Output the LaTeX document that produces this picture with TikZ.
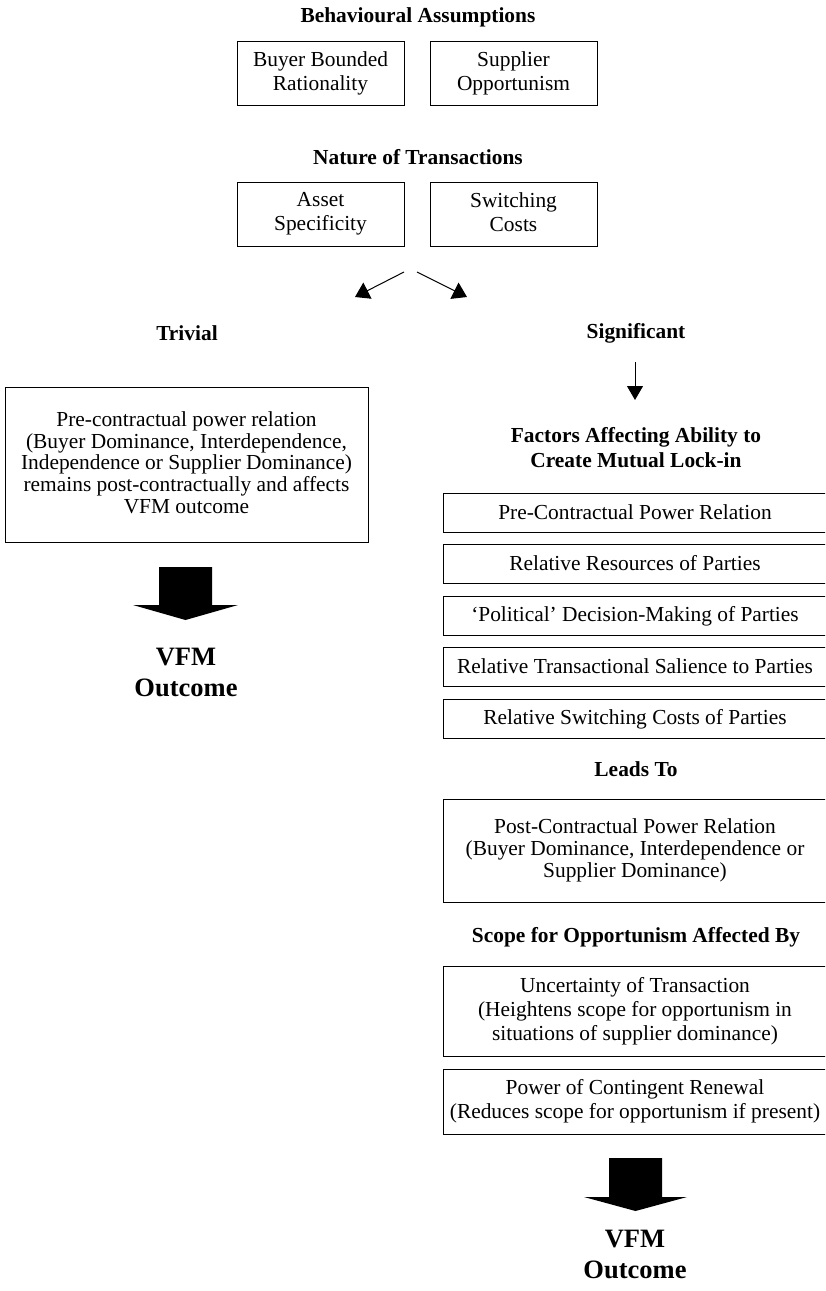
\documentclass[tikz,border=0pt]{standalone}
\usepackage{fontspec}
\setmainfont{Liberation Serif}
\usetikzlibrary{arrows.meta}
\newcommand{\boxfont}{\fontsize{21.4}{21.7}\selectfont}
\newcommand{\loosefont}{\fontsize{21.4}{24}\selectfont}
\newcommand{\vfmfont}{\fontsize{26.5}{31}\selectfont\bfseries}
\newcommand{\boxstrut}{\rule[-0.2\baselineskip]{0pt}{\baselineskip}}
\begin{document}
\begin{tikzpicture}[x=1pt, y=-1pt, line width=1pt,
	boxed/.style={draw, align=center, inner sep=0pt, execute at begin node=\boxstrut, execute at end node=\boxstrut},
	pair/.style={boxed, minimum width=167pt, minimum height=64pt, font=\loosefont},
	factor/.style={boxed, minimum width=384pt, minimum height=39pt, font=\boxfont},
	heading/.style={align=center, inner sep=0pt, font=\boxfont\bfseries},
	thin/.style={-{Triangle[width=18pt,length=14pt]}}]
	\useasboundingbox (0,0) rectangle (825,1291);
	\clip (0,0) rectangle (825,1291);

	% behavioural assumptions
	\node[heading] (behav) at (418,17) {Behavioural Assumptions};
	\node[pair] (buyer) at (320.5,73) {Buyer Bounded\\Rationality};
	\node[pair] (supplier) at (513.5,73) {Supplier\\Opportunism};

	% nature of transactions
	\node[heading] (nature) at (418,157) {Nature of Transactions};
	\node[pair] (asset) at (320.5,214) {Asset\\Specificity};
	\node[pair] (switch) at (513.5,214) {Switching\\Costs};

	\coordinate (fork-l) at (404,272);
	\coordinate (fork-r) at (417,272);
	\coordinate (triv-in) at (355,297);
	\coordinate (sig-in) at (467,297);
	\draw[thin] (fork-l) -- (triv-in);
	\draw[thin] (fork-r) -- (sig-in);

	\node[heading] (trivial) at (187,333) {Trivial};
	\node[heading] (signif) at (636,333) {Significant};

	% trivial side
	\node[boxed, minimum width=363pt, minimum height=155pt, font=\boxfont] (prebox) at (186.5,464.5)
		{Pre-contractual power relation\\(Buyer Dominance, Interdependence,\\Independence or Supplier Dominance)\\remains post-contractually and affects\\VFM outcome};
	\fill (159,567) -- (212,567) -- (212,605) -- (238,605) -- (185.5,620) -- (133,605) -- (159,605) -- cycle;
	\node[align=center, inner sep=0pt, font=\vfmfont] (vfm-l) at (186,672.5) {VFM\\Outcome};

	% significant side
	\coordinate (sig-out) at (635,362);
	\coordinate (fact-in) at (635,400);
	\draw[-{Triangle[width=16pt,length=14pt]}] (sig-out) -- (fact-in);
	\node[heading, font=\fontsize{21.4}{25}\selectfont\bfseries] (factors) at (636,447.5) {Factors Affecting Ability to\\Create Mutual Lock-in};
	\node[factor] (f1) at (635,512.5) {Pre-Contractual Power Relation};
	\node[factor] (f2) at (635,564) {Relative Resources of Parties};
	\node[factor] (f3) at (635,615.5) {`Political' Decision-Making of Parties};
	\node[factor] (f4) at (635,667) {Relative Transactional Salience to Parties};
	\node[factor] (f5) at (635,718.5) {Relative Switching Costs of Parties};

	\node[heading] (leads) at (636,769) {Leads To};
	\node[factor, minimum height=103pt] (post) at (635,850.5)
		{Post-Contractual Power Relation\\(Buyer Dominance, Interdependence or\\Supplier Dominance)};

	\node[heading] (scope) at (636,937) {Scope for Opportunism Affected By};
	\node[factor, minimum height=90pt, font=\loosefont] (uncert) at (635,1011)
		{Uncertainty of Transaction\\(Heightens scope for opportunism in\\situations of supplier dominance)};
	\node[factor, minimum height=65pt, font=\loosefont] (renew) at (635,1101.5)
		{Power of Contingent Renewal\\(Reduces scope for opportunism if present)};

	\fill (609,1158) -- (662,1158) -- (662,1197) -- (687,1197) -- (635.5,1211) -- (584,1197) -- (609,1197) -- cycle;
	\node[align=center, inner sep=0pt, font=\vfmfont] (vfm-r) at (635,1254) {VFM\\Outcome};
\end{tikzpicture}
\end{document}
